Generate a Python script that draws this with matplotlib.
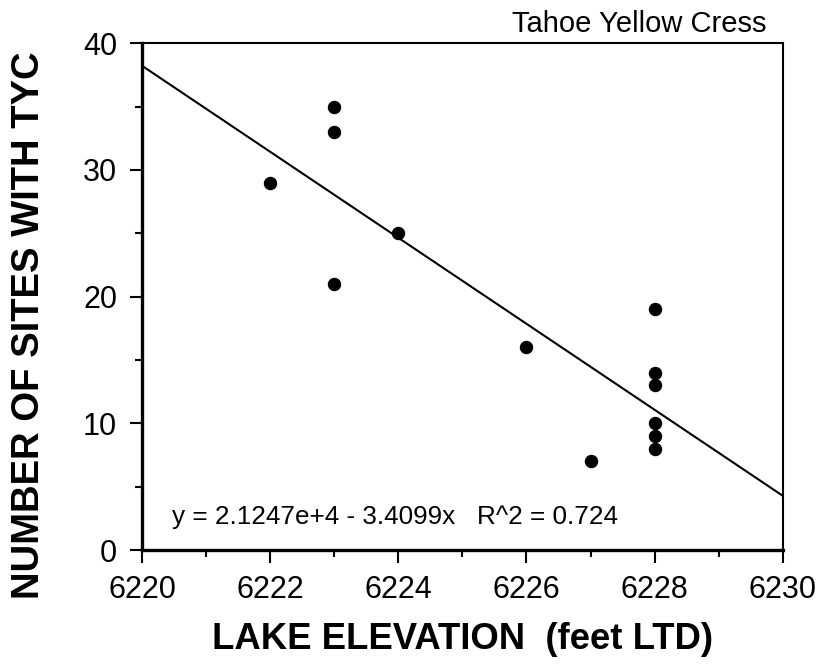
import numpy as np
import matplotlib
matplotlib.use("Agg")
import matplotlib.pyplot as plt
from matplotlib.ticker import MultipleLocator

plt.rcParams['font.family'] = ['Liberation Sans', 'DejaVu Sans']

# Datos: elevación del lago y número de sitios con TYC
elevation = [6222, 6223, 6223, 6223, 6224, 6226, 6227,
             6228, 6228, 6228, 6228, 6228, 6228]
sites = [29, 35, 33, 21, 25, 16, 7,
         19, 14, 13, 10, 9, 8]
equation = "y = 2.1247e+4 - 3.4099x   R^2 = 0.724"

# Recta de regresión
slope, intercept = np.polyfit(elevation, sites, 1)
xfit = np.array([6220, 6230])
yfit = intercept + slope * xfit

fig = plt.figure(figsize=(8.17, 6.66), dpi=100)
ax = fig.add_axes([0.174, 0.174, 0.784, 0.761])

ax.plot(xfit, yfit, color='black', linewidth=1.5)
ax.scatter(elevation, sites, s=75, color='black', zorder=3)

ax.set_xlim(6220, 6230)
ax.set_ylim(0, 40)
ax.xaxis.set_major_locator(MultipleLocator(2))
ax.xaxis.set_minor_locator(MultipleLocator(1))
ax.yaxis.set_major_locator(MultipleLocator(10))
ax.yaxis.set_minor_locator(MultipleLocator(5))
ax.xaxis.set_major_formatter(plt.FormatStrFormatter('%d'))

for side in ['left', 'bottom']:
    ax.spines[side].set_linewidth(2.4)
for side in ['top', 'right']:
    ax.spines[side].set_linewidth(1.5)

ax.tick_params(which='major', direction='out', length=9, width=1.5,
               labelsize=22, top=False, right=False)
ax.tick_params(which='minor', direction='out', length=5, width=1.5,
               top=False, right=False)
ax.tick_params(axis='x', pad=9)
ax.tick_params(axis='y', pad=9)

ax.set_xlabel('LAKE ELEVATION  (feet LTD)', fontsize=26.3, fontweight='bold', labelpad=12)
ax.set_ylabel('NUMBER OF SITES WITH TYC', fontsize=27.5, fontweight='bold')
ax.yaxis.set_label_coords(-0.149, 0.443)

ax.text(0.047, 0.052, equation, transform=ax.transAxes, fontsize=18.8,
        ha='left', va='baseline')
ax.text(0.975, 1.01, 'Tahoe Yellow Cress', transform=ax.transAxes,
        fontsize=21, ha='right', va='bottom')

fig.savefig('out.png', dpi=100)
